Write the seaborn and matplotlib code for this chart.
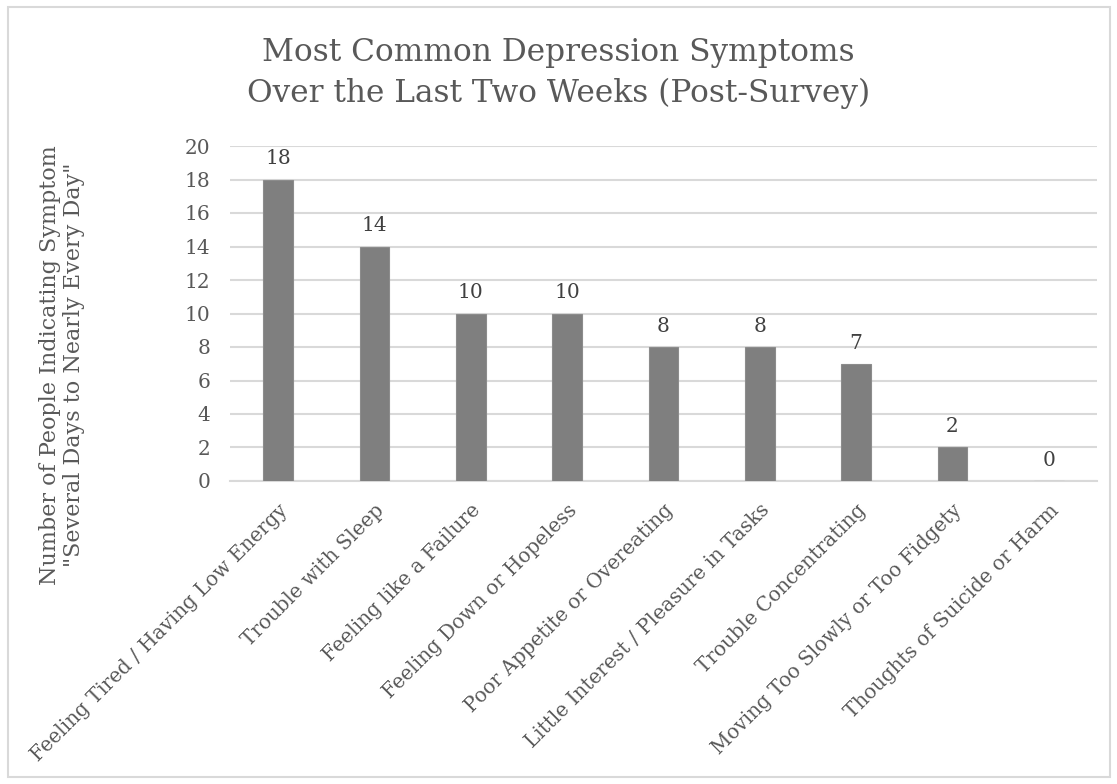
import matplotlib
matplotlib.use("Agg")
import matplotlib.pyplot as plt
from matplotlib.patches import Rectangle
import seaborn as sns
import pandas as pd

symptoms = [
    "Feeling Tired / Having Low Energy",
    "Trouble with Sleep",
    "Feeling like a Failure",
    "Feeling Down or Hopeless",
    "Poor Appetite or Overeating",
    "Little Interest / Pleasure in Tasks",
    "Trouble Concentrating",
    "Moving Too Slowly or Too Fidgety",
    "Thoughts of Suicide or Harm",
]
counts = [18, 14, 10, 10, 8, 8, 7, 2, 0]
y_ticks = [0, 2, 4, 6, 8, 10, 12, 14, 16, 18, 20]

df = pd.DataFrame({"symptom": symptoms, "count": counts})

sns.set_theme(style="white")
plt.rcParams["font.family"] = ["DejaVu Serif"]

text_col = "#595959"
W, H = 1117, 784
fig = plt.figure(figsize=(W / 100, H / 100), dpi=100)
ax = fig.add_axes([230 / W, 1 - 481 / H, (1097 - 230) / W, (481 - 146) / H])

sns.barplot(data=df, x="symptom", y="count", color="#7f7f7f", saturation=1,
            width=0.31, edgecolor="#8c8c8c", linewidth=0.8, ax=ax, zorder=3)

ax.set_ylim(0, 20)
ax.set_yticks(y_ticks)
ax.set_xlim(-0.5, len(symptoms) - 0.5)
ax.yaxis.grid(True, color="#d9d9d9", linewidth=1.5, zorder=0)
ax.set_axisbelow(True)
for s in ["top", "right", "left"]:
    ax.spines[s].set_visible(False)
ax.spines["bottom"].set_color("#d9d9d9")
ax.spines["bottom"].set_linewidth(1.5)
ax.tick_params(axis="y", length=0, pad=14, labelsize=14.5, labelcolor=text_col)
ax.tick_params(axis="x", length=0, pad=14, labelsize=14.3, labelcolor=text_col)
ax.set_xticks(range(len(symptoms)))
ax.set_xticklabels(symptoms, rotation=45, ha="right", rotation_mode="anchor")
ax.set_xlabel("")
ax.set_ylabel("")

fig.text(62 / W, 1 - 365 / H,
         "Number of People Indicating Symptom\n\"Several Days to Nearly Every Day\"",
         rotation=90, ha="center", va="center", fontsize=16, color=text_col,
         linespacing=1.15)

for i, v in enumerate(counts):
    ax.annotate(f"{v}", (i, v), xytext=(0, 8), textcoords="offset points",
                ha="center", va="bottom", fontsize=14.5, color="#404040")

fig.text(0.5, 1 - 73 / H, "Most Common Depression Symptoms\nOver the Last Two Weeks (Post-Survey)",
         ha="center", va="center", fontsize=22.5, color=text_col, linespacing=1.38)

fig.patches.append(Rectangle((8 / W, 7 / H), (1110 - 8) / W, (777 - 7) / H,
                             transform=fig.transFigure, fill=False,
                             edgecolor="#d9d9d9", linewidth=1.5))

fig.savefig("out.png", dpi=100, facecolor="white")
